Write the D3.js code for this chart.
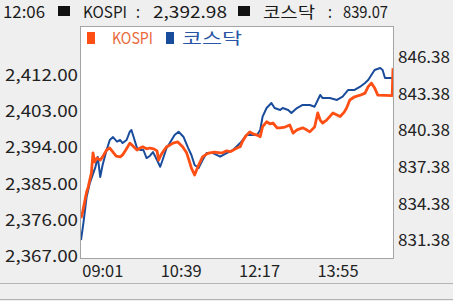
<!DOCTYPE html>
<html>
<head>
<meta charset="utf-8">
<script src="https://cdn.jsdelivr.net/npm/d3@7"></script>
<style>
  body { margin: 0; background: #efefef; }
  svg { display: block; font-family: "Liberation Sans Narrow", "Noto Sans CJK KR", sans-serif; }
</style>
</head>
<body>
<svg id="chart" width="453" height="301"></svg>
<script>
// header
var headerText = "12:06 ■ KOSPI : 2,392.98 ■ 코스닥 : 839.07";
var seriesNames = ["KOSPI", "코스닥"];

// ticks
var xTicks = ["09:01", "10:39", "12:17", "13:55"];
var leftTicks = [2367, 2376, 2385, 2394, 2403, 2412];
var rightTicks = [831.38, 834.38, 837.38, 840.38, 843.38, 846.38];

// KOSPI (left axis)
var kospiTime = ["09:00","09:02","09:05","09:07","09:09","09:11","09:13","09:15","09:17","09:20",
  "09:24","09:27","09:32","09:36","09:40","09:44","09:49","09:52","09:56","10:01",
  "10:05","10:10","10:14","10:17","10:22","10:26","10:31","10:35","10:37","10:40",
  "10:44","10:47","10:51","10:55","11:01","11:05","11:07","11:12","11:15","11:18",
  "11:22","11:26","11:30","11:32","11:37","11:41","11:47","11:54","11:57","12:02",
  "12:07","12:15","12:19","12:22","12:26","12:31","12:35","12:40","12:44","12:47",
  "12:52","12:56","13:00","13:05","13:09","13:15","13:21","13:25","13:30","13:37",
  "13:42","13:46","13:52","13:56","13:59","14:02","14:07","14:15","14:20","14:24",
  "14:29","14:32","14:36","14:42","14:49","14:55","14:59","15:03","15:07","15:11",
  "15:29","15:30"];
var kospiValue = [2376.5, 2378.0, 2381.0, 2383.0, 2384.2, 2386.0, 2387.7, 2392.7, 2390.4, 2391.4,
  2390.9, 2391.7, 2393.4, 2393.9, 2392.9, 2391.9, 2391.7, 2392.2, 2393.4, 2395.1,
  2394.4, 2393.4, 2393.9, 2394.2, 2393.7, 2393.9, 2393.7, 2393.2, 2390.9, 2392.2,
  2393.4, 2394.2, 2394.6, 2395.1, 2395.4, 2394.6, 2394.2, 2392.7, 2390.9, 2388.9,
  2387.2, 2389.2, 2390.9, 2391.7, 2392.4, 2392.7, 2392.9, 2392.7, 2392.7, 2393.2,
  2393.0, 2393.9, 2394.2, 2395.6, 2396.9, 2397.9, 2397.4, 2397.1, 2396.7, 2399.2,
  2400.4, 2399.9, 2400.1, 2398.9, 2398.9, 2399.1, 2399.6, 2397.6, 2398.4, 2398.9,
  2398.4, 2397.9, 2399.1, 2402.6, 2400.8, 2400.1, 2400.8, 2402.6, 2402.1, 2401.7,
  2402.8, 2403.8, 2405.8, 2406.6, 2407.0, 2407.5, 2409.1, 2410.0, 2408.8, 2407.0,
  2406.9, 2413.7];

// KOSDAQ (right axis)
var kosdaqTime = ["09:00","09:03","09:07","09:11","09:18","09:21","09:24","09:27","09:32","09:36",
  "09:40","09:45","09:49","09:52","09:57","10:01","10:03","10:05","10:10","10:14",
  "10:18","10:22","10:26","10:30","10:35","10:39","10:42","10:47","10:51","10:57",
  "11:02","11:08","11:14","11:18","11:22","11:27","11:32","11:37","11:45","11:54",
  "12:02","12:10","12:19","12:27","12:31","12:40","12:44","12:47","12:52","12:58",
  "13:02","13:09","13:12","13:19","13:23","13:30","13:37","13:46","13:52","13:59",
  "14:02","14:11","14:20","14:27","14:34","14:42","14:49","14:55","14:59","15:03",
  "15:07","15:14","15:17","15:20","15:29","15:30"];
var kosdaqValue = [831.42, 832.81, 834.95, 836.09, 837.40, 838.22, 836.59, 837.57, 838.80, 839.62,
  839.86, 839.48, 839.62, 839.37, 839.62, 840.30, 840.44, 840.03, 838.96, 838.80,
  838.80, 838.14, 838.31, 838.63, 837.98, 837.43, 837.98, 838.96, 839.37, 840.03,
  840.30, 839.89, 838.96, 838.39, 837.57, 837.32, 837.98, 838.55, 838.55, 838.25,
  838.55, 838.80, 839.37, 840.03, 840.03, 840.03, 840.44, 841.53, 842.24, 842.65,
  842.24, 842.08, 842.24, 842.08, 841.83, 842.24, 842.49, 842.49, 842.35, 843.31,
  843.06, 843.06, 842.90, 843.17, 843.72, 843.72, 843.99, 844.29, 844.54, 844.95,
  845.36, 845.52, 845.36, 844.70, 844.70, 844.54];

var colors = ["#ff4f14", "#1a4c9c"];
var textColors = ["#e8683a", "#2a55a5"];

var svg = d3.select("#chart"),
  frame = {left: 81, top: 27, right: 393, bottom: 258};

var parseTime = d3.timeParse("%H:%M");

var x = d3.scaleTime()
  .domain([parseTime("09:00"), parseTime("15:30")])
  .range([frame.left, frame.right]);

var yLeft = d3.scaleLinear()
  .domain([2366.63, 2423.90])
  .range([frame.bottom, frame.top]);

var yRight = d3.scaleLinear()
  .domain([829.95, 848.88])
  .range([frame.bottom, frame.top]);

// bottom status strip
svg.append("line")
  .attr("x1", 0).attr("x2", 453)
  .attr("y1", 283.5).attr("y2", 283.5)
  .attr("stroke", "#b4b4b4");
svg.append("line")
  .attr("x1", 0).attr("x2", 453)
  .attr("y1", 299.5).attr("y2", 299.5)
  .attr("stroke", "#b4b4b4");

// header, one token at a time (start x and width of each)
var headerLayout = [[3, 42], [58, 12], [83, 44], [136, 4], [153, 74], [238, 12], [263, 52], [328, 4], [343, 45]];
var header = svg.append("g");
headerText.split(" ").forEach(function(tok, i) {
  var p = headerLayout[i];
  if (tok === "■") {
    header.append("rect")
      .attr("x", p[0]).attr("y", 6)
      .attr("width", p[1]).attr("height", 10)
      .attr("fill", "#111");
  } else {
    header.append("text")
      .attr("x", p[0])
      .attr("y", 17.5)
      .attr("font-size", 16)
      .attr("fill", "#1a1a1a")
      .attr("textLength", p[1])
      .attr("lengthAdjust", "spacingAndGlyphs")
      .text(tok);
  }
});

// plot frame
svg.append("rect")
  .attr("x", frame.left - 0.5)
  .attr("y", frame.top - 0.5)
  .attr("width", frame.right - frame.left + 1)
  .attr("height", frame.bottom - frame.top + 1)
  .attr("fill", "#fff")
  .attr("stroke", "#a4a4a4");

svg.append("clipPath").attr("id", "clip")
  .append("rect")
  .attr("x", frame.left)
  .attr("y", frame.top)
  .attr("width", frame.right - frame.left)
  .attr("height", frame.bottom - frame.top);

var kospi = kospiTime.map(function(t, i) { return {t: parseTime(t), v: kospiValue[i]}; });
var kosdaq = kosdaqTime.map(function(t, i) { return {t: parseTime(t), v: kosdaqValue[i]}; });

var lineLeft = d3.line()
  .x(function(d) { return x(d.t); })
  .y(function(d) { return yLeft(d.v); });

var lineRight = d3.line()
  .x(function(d) { return x(d.t); })
  .y(function(d) { return yRight(d.v); });

var g = svg.append("g").attr("clip-path", "url(#clip)");

g.append("path")
  .datum(kosdaq)
  .attr("fill", "none")
  .attr("stroke", colors[1])
  .attr("stroke-width", 2)
  .attr("stroke-linejoin", "round")
  .attr("d", lineRight);

g.append("path")
  .datum(kospi)
  .attr("fill", "none")
  .attr("stroke", colors[0])
  .attr("stroke-width", 2.8)
  .attr("stroke-linejoin", "round")
  .attr("d", lineLeft);

// left axis labels
svg.append("g")
  .selectAll("text")
  .data(leftTicks)
  .enter().append("text")
    .attr("x", 78)
    .attr("y", function(d) { return yLeft(d); })
    .attr("dy", "0.36em")
    .attr("text-anchor", "end")
    .attr("font-size", 16)
    .attr("fill", "#222")
    .attr("textLength", 73)
    .attr("lengthAdjust", "spacingAndGlyphs")
    .text(function(d) { return d3.format(",.2f")(d); });

// right axis labels
svg.append("g")
  .selectAll("text")
  .data(rightTicks)
  .enter().append("text")
    .attr("x", 398)
    .attr("y", function(d) { return yRight(d); })
    .attr("dy", "0.36em")
    .attr("font-size", 16)
    .attr("fill", "#222")
    .attr("textLength", 52)
    .attr("lengthAdjust", "spacingAndGlyphs")
    .text(function(d) { return d3.format(".2f")(d); });

// x axis labels
svg.append("g")
  .selectAll("text")
  .data(xTicks)
  .enter().append("text")
    .attr("x", function(d) { return x(parseTime(d)) + 0.5; })
    .attr("y", 271)
    .attr("dy", "0.36em")
    .attr("font-size", 16)
    .attr("fill", "#222")
    .attr("textLength", 41)
    .attr("lengthAdjust", "spacingAndGlyphs")
    .text(function(d) { return d; });

// legend
var legend = svg.append("g")
  .selectAll(".legend")
  .data(seriesNames)
  .enter().append("g")
    .attr("class", "legend")
    .attr("transform", function(d, i) { return "translate(" + (i === 0 ? 87 : 166) + ",0)"; });

legend.append("rect")
  .attr("x", 0)
  .attr("y", 32)
  .attr("width", 8)
  .attr("height", 12)
  .attr("fill", function(d, i) { return colors[i]; });

legend.append("text")
  .attr("x", function(d, i) { return i === 0 ? 25 : 16; })
  .attr("y", 38.5)
  .attr("dy", "0.36em")
  .attr("font-size", 16)
  .attr("fill", function(d, i) { return textColors[i]; })
  .attr("textLength", function(d, i) { return i === 0 ? 41 : 60; })
  .attr("lengthAdjust", "spacingAndGlyphs")
  .text(function(d) { return d; });
</script>
</body>
</html>
